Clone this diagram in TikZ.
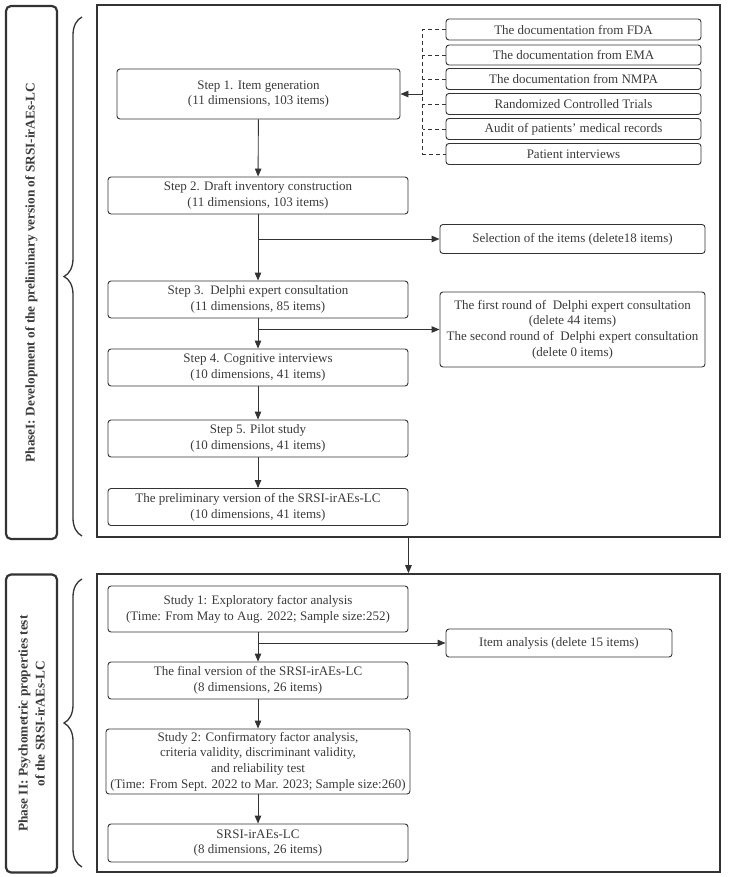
\documentclass[tikz,border=0pt]{standalone}
\usepackage{fontspec}
\setmainfont{Liberation Serif}
\usetikzlibrary{arrows.meta,decorations.pathreplacing}
\definecolor{ink}{HTML}{333333}
\definecolor{txt}{HTML}{3A3A3A}
\begin{document}
\begin{tikzpicture}[x=1pt,y=-1pt,
  box/.style={draw=ink,line width=0.9pt,rounded corners=3pt,align=center,text=txt,inner sep=0pt,font=\fontsize{13}{15.7}\selectfont},
  frame/.style={draw=ink,line width=1.6pt,inner sep=0pt},
  lab/.style={draw=ink,line width=2.2pt,rounded corners=5pt,align=center,text=txt,inner sep=0pt,font=\bfseries\fontsize{13.3}{17}\selectfont},
  arr/.style={draw=ink,line width=0.9pt,-{Triangle[length=8pt,width=6.5pt]}},
  dsh/.style={draw=ink,line width=0.9pt,dash pattern=on 4pt off 3pt},
  brc/.style={draw=ink,line width=1.3pt,decorate,decoration={brace,amplitude=18pt}}
]
\useasboundingbox (0,0) rectangle (733,877);
% frames
\node[frame,minimum width=623pt,minimum height=532pt] (f1) at (408.5,271) {};
\node[frame,minimum width=623pt,minimum height=298pt] (f2) at (408.5,723) {};
% phase labels
\node[lab,rotate=90,minimum width=533pt,minimum height=51pt] (ph1) at (31.5,272.5) {PhaseI: Development of the preliminary version of SRSI-irAEs-LC};
\node[lab,rotate=90,minimum width=298pt,minimum height=51pt] (ph2) at (31.5,723.5) {Phase II: Psychometric properties test\\of the SRSI-irAEs-LC};
% braces
\coordinate (b1a) at (82,536);
\coordinate (b1b) at (82,17);
\draw[brc] (b1a) -- (b1b);
\coordinate (b2a) at (82,867);
\coordinate (b2b) at (82,579);
\draw[brc] (b2a) -- (b2b);
% phase I
\node[box,minimum width=283pt,minimum height=50pt] (s1) at (258.5,94) {Step 1. Item generation\\(11 dimensions, 103 items)};
\node[box,minimum width=300pt,minimum height=37pt] (s2) at (258,195.5) {Step 2. Draft inventory construction\\(11 dimensions, 103 items)};
\node[box,minimum width=300pt,minimum height=37pt] (s3) at (258,299.5) {Step 3.\ \ Delphi expert consultation\\(11 dimensions, 85 items)};
\node[box,minimum width=300pt,minimum height=37pt] (s4) at (258,367.5) {Step 4. Cognitive interviews\\(10 dimensions, 41 items)};
\node[box,minimum width=300pt,minimum height=37pt] (s5) at (258,438.5) {Step 5. Pilot study\\(10 dimensions, 41 items)};
\node[box,minimum width=300pt,minimum height=37pt] (pre) at (258,507) {The preliminary version of the SRSI-irAEs-LC\\(10 dimensions, 41 items)};
% sources
\node[box,minimum width=255pt,minimum height=21pt] (fda) at (573.5,29.5) {The documentation from FDA};
\node[box,minimum width=255pt,minimum height=20pt] (ema) at (573.5,55) {The documentation from EMA};
\node[box,minimum width=255pt,minimum height=21pt] (nmpa) at (573.5,79) {The documentation from NMPA};
\node[box,minimum width=255pt,minimum height=21pt] (rct) at (573.5,104) {Randomized Controlled Trials};
\node[box,minimum width=255pt,minimum height=21pt] (aud) at (573.5,129) {Audit of patients’ medical records};
\node[box,minimum width=255pt,minimum height=21pt] (pat) at (573.5,154) {Patient interviews};
\draw[dsh] (fda.west) -- ++(-23,0) |- (pat.west);
\draw[dsh] (ema.west) -- ++(-23,0);
\draw[dsh] (nmpa.west) -- ++(-23,0);
\draw[dsh] (rct.west) -- ++(-23,0);
\draw[dsh] (aud.west) -- ++(-23,0);
\draw[arr] ([xshift=-23pt]fda.west |- s1.east) -- (s1.east);
% side boxes
\node[box,minimum width=265pt,minimum height=29pt] (sel) at (572.5,239) {Selection of the items (delete18 items)};
\node[box,minimum width=265pt,minimum height=75pt] (del) at (572.5,329.5) {The first round of\ \ Delphi expert consultation\\(delete 44 items)\\The second round of\ \ Delphi expert consultation\\(delete 0 items)};
\draw[arr] (s1) -- (s2);
\draw[arr] (s2) -- (s3);
\draw[arr] (s2.south |- sel.west) -- (sel.west);
\draw[arr] (s3) -- (s4);
\draw[arr] (s3.south |- del.west) -- (del.west);
\draw[arr] (s4) -- (s5);
\draw[arr] (s5) -- (pre);
% between phases
\draw[arr] (f1.south -| pre.east) -- (f2.north -| pre.east);
% phase II
\node[box,minimum width=300pt,minimum height=46pt] (st1) at (258,609) {Study 1: Exploratory factor analysis\\(Time: From May to Aug. 2022; Sample size:252)};
\node[box,minimum width=300pt,minimum height=37pt] (fin) at (258,680.5) {The final version of the SRSI-irAEs-LC\\(8 dimensions, 26 items)};
\node[box,minimum width=304pt,minimum height=65pt] (st2) at (258,761.5) {Study 2: Confirmatory factor analysis,\\criteria validity, discriminant validity,\\and reliability test\\(Time: From Sept. 2022 to Mar. 2023; Sample size:260)};
\node[box,minimum width=300pt,minimum height=38pt] (fv) at (258,843) {SRSI-irAEs-LC\\(8 dimensions, 26 items)};
\node[box,minimum width=226pt,minimum height=28pt] (ia) at (559,643) {Item analysis (delete 15 items)};
\draw[arr] (st1) -- (fin);
\draw[arr] (st1.south |- ia.west) -- (ia.west);
\draw[arr] (fin) -- (st2);
\draw[arr] (st2) -- (fv);
\end{tikzpicture}
\end{document}
